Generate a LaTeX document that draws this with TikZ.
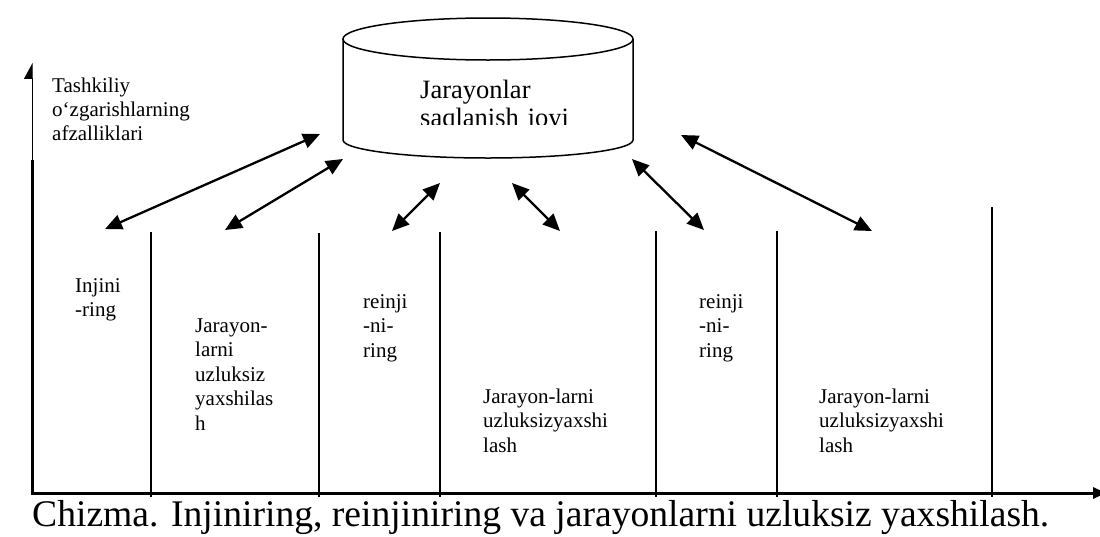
\documentclass[tikz,border=0pt]{standalone}
\usepackage{fontspec}
\setmainfont{Liberation Serif}
\usetikzlibrary{arrows.meta}
\begin{document}
\begin{tikzpicture}[x=1pt,y=-1pt,
  lbl/.style={anchor=base west, inner sep=0pt, align=left, text width=150pt,
    font=\fontsize{21}{24.5}\selectfont},
  divider/.style={line width=1.8pt},
  axis/.style={line width=3pt},
  link/.style={line width=2.3pt,
    {Triangle[length=17pt,width=15pt]}-{Triangle[length=17pt,width=15pt]}},
  tank/.style={line width=1.5pt}]
\useasboundingbox (0,0) rectangle (1100,536);
\fill[white] (0,0) rectangle (1100,536);

% axes
\coordinate (origin) at (32,493);
\coordinate (ybreak) at (32,160);
\coordinate (ytop) at (32,63);
\coordinate (xend) at (1106,493);
\draw[line width=1pt, -{Triangle[length=15pt,width=16pt,harpoon]}] (ybreak) -- (ytop);
\draw[axis] (32,495) -- (ybreak);
\draw[axis, -{Triangle[length=13pt,width=11pt]}] (30.5,493) -- (xend);

% column dividers
\foreach \x/\t in {151/232, 319/233, 440/232, 656/231, 777/231, 992/207}
  \draw[divider] (\x,\t) -- (\x,497);

% process store (cylinder)
\draw[tank] (343,39) -- (343,140) arc[start angle=180, end angle=360,
  x radius=145pt, y radius=18pt] -- (633,39);
\draw[tank] (488,39) ellipse[x radius=145pt, y radius=21pt];
\begin{scope}
  \clip (343,39) rectangle (633,124.5);
  \node[anchor=base west, inner sep=0pt, align=left, text width=200pt,
    font=\fontsize{26.5}{28}\selectfont] (store) at (420,98)
    {Jarayonlar\\saqlanish joyi};
\end{scope}

% labels
\node[anchor=base west, inner sep=0pt, align=left, text width=200pt,
  font=\fontsize{21}{24}\selectfont] (ylabel) at (52,92)
  {Tashkiliy\\o‘zgarishlarning\\afzalliklari};
\node[lbl] (c1) at (75,292) {Injini\\-ring};
\node[lbl] (c2) at (195,332) {Jarayon-\\larni\\uzluksiz\\yaxshilas\\h};
\node[lbl] (c3) at (363,308) {reinji\\-ni-\\ring};
\node[lbl] (c4) at (483,403) {Jarayon-larni\\uzluksizyaxshi\\lash};
\node[lbl] (c5) at (699,308) {reinji\\-ni-\\ring};
\node[lbl] (c6) at (819,403) {Jarayon-larni\\uzluksizyaxshi\\lash};

% links between the store and the phases
\coordinate (s1) at (320,134);  \coordinate (p1) at (105,229);
\coordinate (s2) at (343,159);  \coordinate (p2) at (225,230);
\coordinate (s3) at (440,183);  \coordinate (p3) at (392,231);
\coordinate (s4) at (512,183);  \coordinate (p4) at (560,231);
\coordinate (s5) at (632,159);  \coordinate (p5) at (704,230);
\coordinate (s6) at (681,135);  \coordinate (p6) at (872,231);
\foreach \i in {1,...,6}
  \draw[link] (s\i) -- (p\i);

% caption
\node[anchor=base west, inner sep=0pt, font=\fontsize{37.6}{40}\selectfont]
  (caption) at (32,526)
  {Chizma. Injiniring, reinjiniring va jarayonlarni uzluksiz yaxshilash.};
\end{tikzpicture}
\end{document}
